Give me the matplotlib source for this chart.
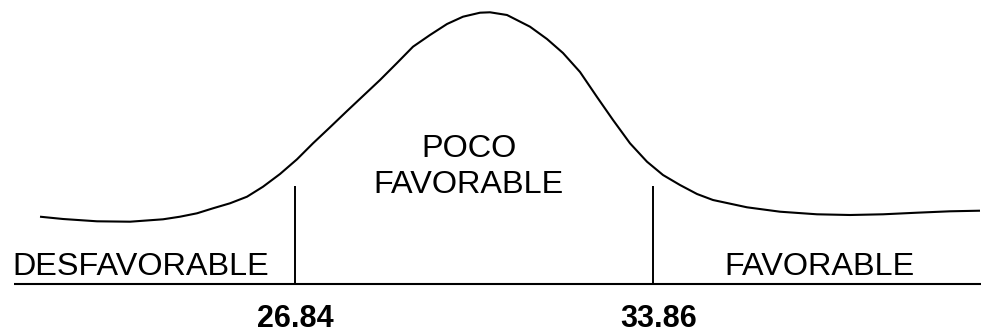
import matplotlib
matplotlib.use("Agg")
import matplotlib.pyplot as plt

# Curve (score axis, relative height above baseline)
curve_x = [21.840, 22.291, 22.957, 23.605, 24.252, 24.585, 24.918, 25.232, 25.565,
           25.899, 26.213, 26.546, 26.879, 27.193, 27.526, 27.860, 28.173, 28.507,
           28.840, 29.154, 29.487, 29.821, 30.134, 30.468, 30.664, 30.997, 31.448,
           31.781, 32.095, 32.429, 32.762, 33.076, 33.409, 33.742, 34.056, 34.389,
           34.723, 35.036, 35.703, 36.350, 37.076, 37.723, 38.370, 39.037, 39.684,
           40.272]
curve_y = [0.673, 0.650, 0.627, 0.623, 0.647, 0.673, 0.707, 0.757, 0.807,
           0.873, 0.973, 1.100, 1.247, 1.407, 1.567, 1.730, 1.880, 2.040,
           2.210, 2.373, 2.490, 2.600, 2.673, 2.713, 2.717, 2.690, 2.573,
           2.450, 2.310, 2.120, 1.870, 1.640, 1.407, 1.223, 1.090, 0.990,
           0.900, 0.840, 0.767, 0.723, 0.697, 0.690, 0.697, 0.713, 0.727,
           0.733]

cut_points = [26.84, 33.86]
cut_labels = ["26.84", "33.86"]
cut_height = 0.98
baseline_range = [21.33, 40.29]

category_labels = ["DESFAVORABLE", "POCO", "FAVORABLE", "FAVORABLE"]

plt.rcParams['font.family'] = ['Liberation Sans', 'DejaVu Sans']

fig = plt.figure(figsize=(9.81, 3.33), dpi=100)
ax = fig.add_axes([0, 0, 1, 1])
ax.set_xlim(21.0553, 40.2917)
ax.set_ylim(-0.49, 2.84)
ax.axis('off')

ax.plot(curve_x, curve_y, color='black', lw=1.5, solid_joinstyle='round',
        solid_capstyle='butt')
ax.plot(baseline_range, [0, 0], color='black', lw=1.5, solid_capstyle='butt')
for c in cut_points:
    ax.plot([c, c], [0, cut_height], color='black', lw=1.4, solid_capstyle='butt')

fs = 23.3
ax.text(21.29, 0.09, category_labels[0], ha='left', va='baseline', fontsize=fs)
ax.text(30.25, 1.27, category_labels[1], ha='center', va='baseline', fontsize=fs)
ax.text(30.25, 0.91, category_labels[2], ha='center', va='baseline', fontsize=fs)
ax.text(37.12, 0.09, category_labels[3], ha='center', va='baseline', fontsize=fs)

label_x = [26.84, 33.97]
for lx, lab in zip(label_x, cut_labels):
    ax.text(lx, -0.43, lab, ha='center', va='baseline', fontsize=22, fontweight='bold')

fig.savefig("out.png", dpi=100)
